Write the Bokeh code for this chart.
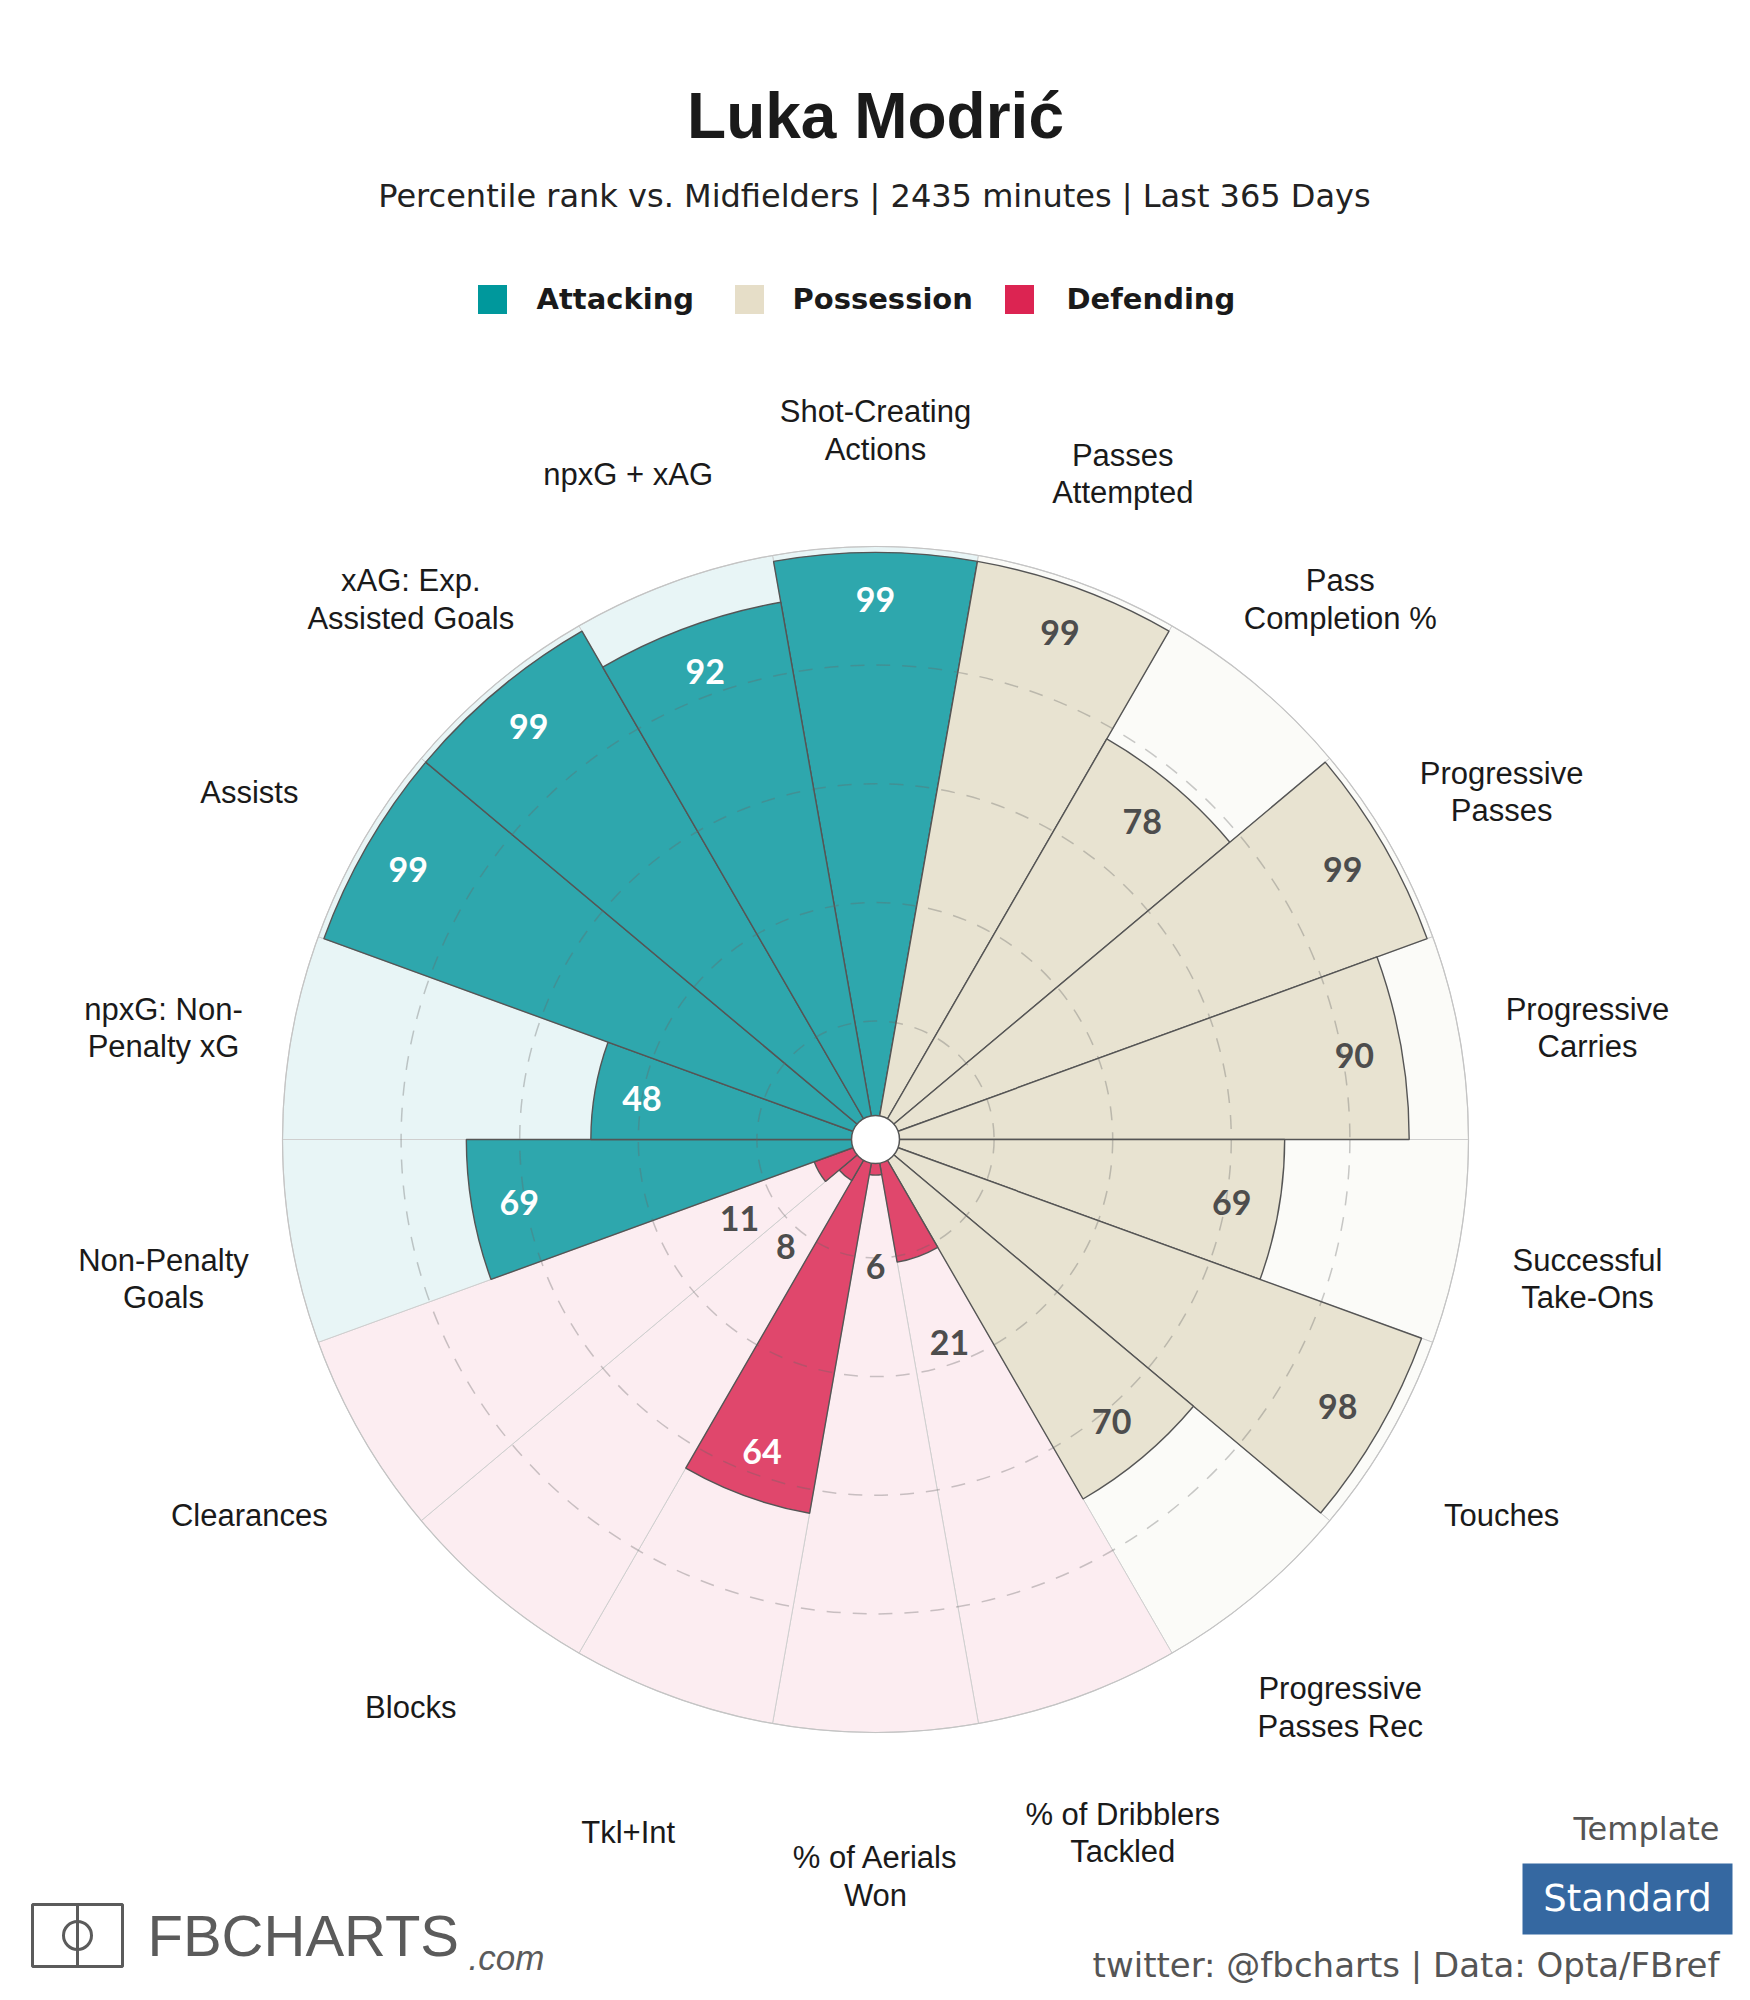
import numpy as np
from bokeh.plotting import figure
from bokeh.models import Range1d, ColumnDataSource
from bokeh.embed import file_html
from bokeh.resources import INLINE
from bokeh.core.properties import value

# ---------------- data ----------------
player = "Luka Modrić"
subtitle = "Percentile rank vs. Midfielders | 2435 minutes | Last 365 Days"

stats = [
    "Shot-Creating\nActions", "Passes\nAttempted", "Pass\nCompletion %",
    "Progressive\nPasses", "Progressive\nCarries", "Successful\nTake-Ons",
    "Touches", "Progressive\nPasses Rec", "% of Dribblers\nTackled",
    "% of Aerials\nWon", "Tkl+Int", "Blocks", "Clearances",
    "Non-Penalty\nGoals", "npxG: Non-\nPenalty xG", "Assists",
    "xAG: Exp.\nAssisted Goals", "npxG + xAG",
]
percentiles = [99, 99, 78, 99, 90, 69, 98, 70, 21, 6, 64, 8, 11, 69, 48, 99, 99, 92]
groups = ["Attacking", "Possession", "Possession", "Possession", "Possession",
          "Possession", "Possession", "Possession", "Defending", "Defending",
          "Defending", "Defending", "Defending", "Attacking", "Attacking",
          "Attacking", "Attacking", "Attacking"]
legend_names = ["Attacking", "Possession", "Defending"]
grid_levels = [20, 40, 60, 80]

# ---------------- styling ----------------
bar_col = {"Attacking": "#2ea7ad", "Possession": "#e8e3d1", "Defending": "#e0476c"}
bg_col = {"Attacking": "#e8f5f6", "Possession": "#fbfbf8", "Defending": "#fcedf1"}
leg_col = {"Attacking": "#00989c", "Possession": "#e6dec8", "Defending": "#dc2452"}

W, H = 1734, 1984
p = figure(width=W, height=H, x_range=Range1d(0, 1734), y_range=Range1d(16, 2000),
           output_backend="svg", toolbar_location=None, min_border=0)
p.axis.visible = False
p.grid.visible = False
p.outline_line_color = None
p.background_fill_color = "white"
p.border_fill_color = "white"

def Y(screen_y):
    return 2000 - screen_y

cx, cy, R = 875, Y(1139), 593
n = len(stats)
step = 360 / n
centers = np.array([90 - step * i for i in range(n)])
start = np.radians(centers - step / 2)
end = np.radians(centers + step / 2)
vals = np.array(percentiles, dtype=float)

src = ColumnDataSource(dict(
    start=start, end=end, r=vals / 100 * R,
    bar=[bar_col[g] for g in groups], bg=[bg_col[g] for g in groups],
))

# background wedges
p.wedge(x=cx, y=cy, radius=R, start_angle="start", end_angle="end", source=src,
        fill_color="bg", line_color="#cfcfcf", line_width=1)
p.circle(x=cx, y=cy, radius=R, fill_color=None, line_color="#c4c4c4", line_width=1.2)
# value bars
p.wedge(x=cx, y=cy, radius="r", start_angle="start", end_angle="end", source=src,
        fill_color="bar", line_color="#555555", line_width=1.4)
# dashed grid circles
for lv in grid_levels:
    p.circle(x=cx, y=cy, radius=lv / 100 * R, fill_color=None, line_color="#666666",
             line_alpha=0.35, line_width=1.5, line_dash="14 12")
# centre hole
p.circle(x=cx, y=cy, radius=24, fill_color="white", line_color="#555555", line_width=1.5)

# value labels
th = np.radians(centers)
lab_r = np.where(vals >= 30, vals - 8, vals + 15.5) / 100 * R
lab_col = ["white" if (v >= 30 and g != "Possession") else "#4d4d4d"
           for v, g in zip(vals, groups)]
vsrc = ColumnDataSource(dict(x=cx + lab_r * np.cos(th), y=cy + lab_r * np.sin(th),
                             t=[str(int(v)) for v in vals], c=lab_col))
p.text(x="x", y="y", text="t", source=vsrc, text_color="c",
       text_font=value("Lato"), text_font_style="bold", text_font_size="34px",
       text_align="center", text_baseline="middle")

# category labels
r0 = 723
csrc = ColumnDataSource(dict(x=cx + r0 * np.cos(th), y=cy + r0 * np.sin(th) - 14, t=stats))
p.text(x="x", y="y", text="t", source=csrc, text_color="#1a1a1a",
       text_font=value("Liberation Sans"), text_font_size="31px",
       text_align="center", text_baseline="middle", text_line_height=1.07)

# title & subtitle
p.text(x=[875], y=[Y(115)], text=[player], text_font=value("Liberation Sans"),
       text_font_style="bold", text_font_size="64px", text_color="#1a1a1a",
       text_align="center", text_baseline="middle")
p.text(x=[874], y=[Y(195)], text=[subtitle], text_font=value("DejaVu Sans"),
       text_font_size="32px", text_color="#222222",
       text_align="center", text_baseline="middle")

# legend
leg_sq_x = [492, 749, 1019]
leg_tx_x = [536, 792, 1066]
p.rect(x=leg_sq_x, y=[Y(299)] * 3, width=29, height=29,
       fill_color=[leg_col[g] for g in legend_names], line_color=None)
p.text(x=leg_tx_x, y=[Y(298)] * 3, text=legend_names, text_font=value("DejaVu Sans"),
       text_font_style="bold", text_font_size="29px", text_color="#1a1a1a",
       text_align="left", text_baseline="middle")

# logo
p.quad(left=[32], right=[122], top=[Y(1904)], bottom=[Y(1966)],
       fill_color=None, line_color="#5b5b5b", line_width=3)
p.segment(x0=[77], y0=[Y(1904)], x1=[77], y1=[Y(1966)],
          line_color="#5b5b5b", line_width=3)
p.circle(x=[77], y=[Y(1935)], radius=14, fill_color=None,
         line_color="#5b5b5b", line_width=3)
p.text(x=[147], y=[Y(1935)], text=["FBCHARTS"],
       text_font=value("Liberation Sans"),
       text_font_size="58px", text_color="#5b5b5b",
       text_align="left", text_baseline="middle")
p.text(x=[468], y=[Y(1957)], text=[".com"], text_font=value("Liberation Sans"),
       text_font_style="italic", text_font_size="35px", text_color="#5b5b5b",
       text_align="left", text_baseline="middle")

# template box & footer
p.text(x=[1719], y=[Y(1828)], text=["Template"], text_font=value("DejaVu Sans"),
       text_font_size="32px", text_color="#555555",
       text_align="right", text_baseline="middle")
p.quad(left=[1522], right=[1732], top=[Y(1863)], bottom=[Y(1934)],
       fill_color="#3568a1", line_color=None)
p.text(x=[1627], y=[Y(1898)], text=["Standard"], text_font=value("DejaVu Sans"),
       text_font_size="37px", text_color="white",
       text_align="center", text_baseline="middle")
p.text(x=[1719], y=[Y(1964)], text=["twitter: @fbcharts | Data: Opta/FBref"],
       text_font=value("DejaVu Sans"), text_font_size="34px", text_color="#555555",
       text_align="right", text_baseline="middle")

open("out.html", "w").write(file_html(p, INLINE))
